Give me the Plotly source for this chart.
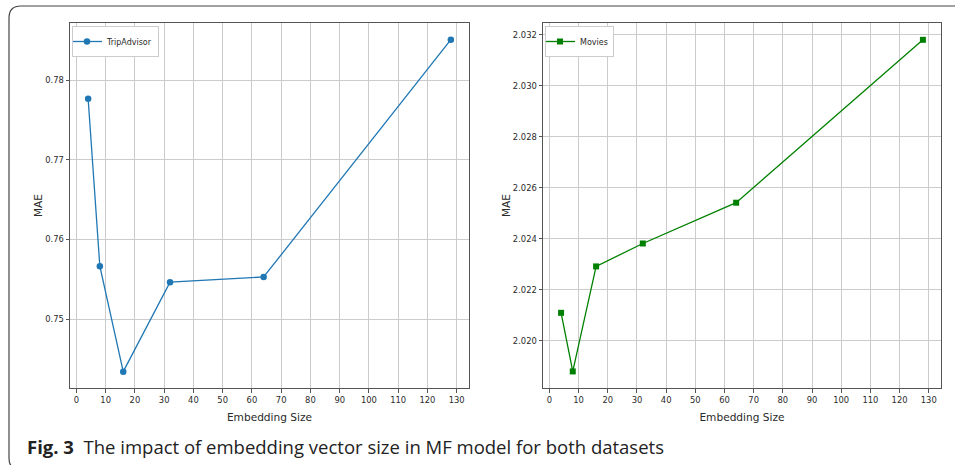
import plotly.graph_objects as go

emb_sizes = [4, 8, 16, 32, 64, 128]
trip_mae = [0.77765, 0.75665, 0.74343, 0.75465, 0.75530, 0.78506]
movies_mae = [2.02109, 2.01879, 2.02291, 2.02381, 2.02541, 2.03180]
x_ticks = list(range(0, 131, 10))

W, H = 955, 465
fig = go.Figure()

fig.add_trace(go.Scatter(
    x=emb_sizes, y=trip_mae, mode="lines+markers", name="TripAdvisor",
    line=dict(color="#1f77b4", width=1.3),
    marker=dict(color="#1f77b4", size=6.5, symbol="circle"),
    xaxis="x", yaxis="y", legend="legend"))
fig.add_trace(go.Scatter(
    x=emb_sizes, y=movies_mae, mode="lines+markers", name="Movies",
    line=dict(color="#008000", width=1.3),
    marker=dict(color="#008000", size=6, symbol="square"),
    xaxis="x2", yaxis="y2", legend="legend2"))

tickfont = dict(family="DejaVu Sans", size=8.4, color="#2a2a2a")
titlefont = dict(family="DejaVu Sans", size=10.6, color="#2a2a2a")
common = dict(showline=True, mirror=True, linecolor="#555", linewidth=1,
              showgrid=True, gridcolor="#cccccc", gridwidth=1.2,
              ticks="outside", ticklen=3.5, tickcolor="#555",
              tickfont=tickfont, zeroline=False)

ydom = [1 - 388 / H, 1 - 23 / H]
legfont = dict(family="DejaVu Sans", size=8, color="#2a2a2a")
fig.update_layout(
    width=W, height=H,
    margin=dict(l=0, r=0, t=0, b=0),
    paper_bgcolor="white", plot_bgcolor="white",
    xaxis=dict(domain=[70 / W, 469 / W], range=[-2.2, 134.2], tickvals=x_ticks,
               title=dict(text="Embedding Size", font=titlefont, standoff=9), anchor="y", **common),
    yaxis=dict(domain=ydom, range=[0.74138, 0.78715], dtick=0.01, tickformat=".2f",
               title=dict(text="MAE", font=titlefont, standoff=0), anchor="x", **common),
    xaxis2=dict(domain=[543 / W, 941 / W], range=[-2.2, 134.2], tickvals=x_ticks,
                title=dict(text="Embedding Size", font=titlefont, standoff=9), anchor="y2", **common),
    yaxis2=dict(domain=ydom, range=[2.01814, 2.03246], dtick=0.002, tickformat=".3f",
                title=dict(text="MAE", font=titlefont, standoff=0), anchor="x2", **common),
    legend=dict(x=72 / W, y=1 - 26 / H, xanchor="left", yanchor="top",
                bgcolor="white", bordercolor="#ccc", borderwidth=1, font=legfont,
                itemwidth=30, tracegroupgap=0, indentation=-6),
    legend2=dict(x=545 / W, y=1 - 26 / H, xanchor="left", yanchor="top",
                 bgcolor="white", bordercolor="#ccc", borderwidth=1, font=legfont,
                 itemwidth=30, tracegroupgap=0, indentation=-6),
    showlegend=True,
)

def px(x, y):
    return f"{x / W:.5f},{1 - y / H:.5f}"

x0, y0, r = 9, 6, 12
yb = 470
path = (f"M {px(x0 + r, yb)} Q {px(x0, yb)} {px(x0, yb - r)} "
        f"L {px(x0, y0 + r)} Q {px(x0, y0)} {px(x0 + r, y0)} L {px(W + 20, y0)}")
fig.add_shape(type="path", xref="paper", yref="paper", path=path,
              line=dict(color="#444", width=1.2))

fig.add_annotation(
    x=25 / W, y=1 - 446 / H, xref="paper", yref="paper", xanchor="left", yanchor="middle",
    showarrow=False,
    text="<b>Fig. 3</b>  The impact of embedding vector size in MF model for both datasets",
    font=dict(family="Open Sans", size=18.5, color="#222"))

fig.write_html("out.html", config={"displayModeBar": False},
               post_script="document.body.style.margin='0';document.body.style.overflow='hidden';")
